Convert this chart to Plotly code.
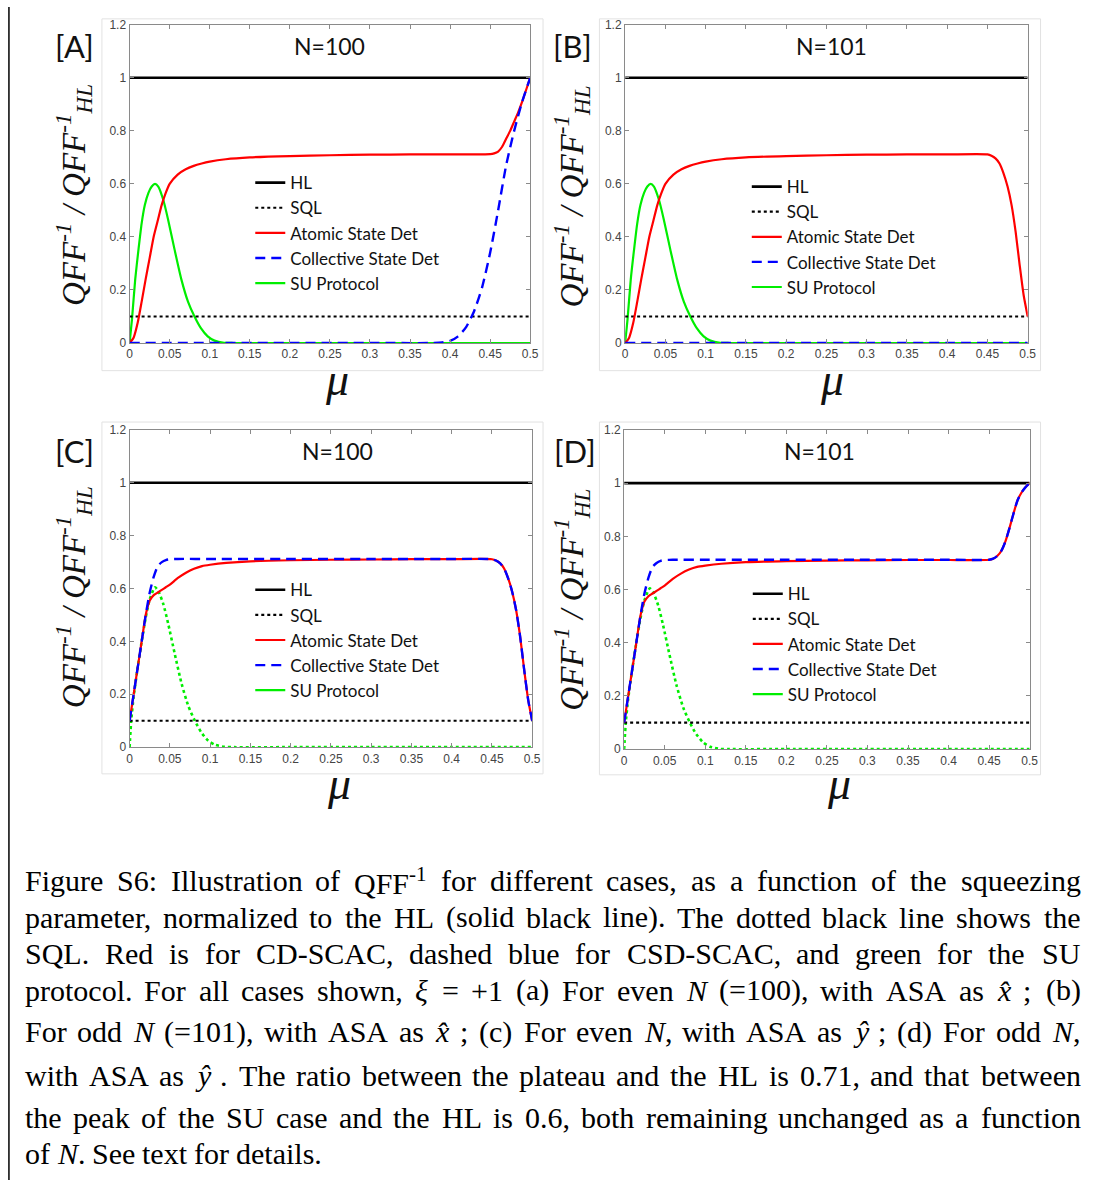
import re
import plotly.graph_objects as go

W, H = 1099, 1187

# ---------------- data ----------------
hl_mu = [0, 0.5]
hl_val = [1.0, 1.0]
sql_val = [0.1, 0.1]

# Panel A (N=100, x-hat)
red_A_mu = [0, 0.005, 0.01, 0.015, 0.02, 0.025, 0.03, 0.035, 0.04, 0.045, 0.05, 0.06, 0.07, 0.08,
            0.09, 0.1, 0.12, 0.15, 0.2, 0.25, 0.3, 0.35, 0.4, 0.45, 0.455, 0.46, 0.465, 0.47,
            0.475, 0.48, 0.485, 0.49, 0.495, 0.5]
red_A = [0, 0.02, 0.075, 0.155, 0.24, 0.32, 0.40, 0.46, 0.52, 0.565, 0.60, 0.635, 0.655, 0.668,
         0.677, 0.684, 0.693, 0.700, 0.705, 0.708, 0.710, 0.711, 0.711, 0.712, 0.715, 0.722, 0.74, 0.77,
         0.80, 0.835, 0.87, 0.91, 0.955, 1.0]
blue_A_mu = [0, 0.1, 0.2, 0.3, 0.38, 0.39, 0.4, 0.41, 0.42, 0.43, 0.44, 0.45, 0.46, 0.47, 0.48, 0.49, 0.5]
blue_A = [0, 0, 0, 0, 0, 0.002, 0.008, 0.025, 0.06, 0.12, 0.21, 0.34, 0.50, 0.67, 0.80, 0.91, 1.0]
green_AB_mu = [0, 0.003, 0.007, 0.011, 0.015, 0.019, 0.0235, 0.0276, 0.0317, 0.0358, 0.042, 0.048,
               0.056, 0.0646, 0.073, 0.081, 0.089, 0.0975, 0.106, 0.118, 0.13, 0.2, 0.3, 0.4, 0.5]
green_AB = [0, 0.09, 0.24, 0.35, 0.45, 0.52, 0.566, 0.59, 0.60, 0.59, 0.54, 0.466,
            0.354, 0.24, 0.155, 0.10, 0.056, 0.025, 0.009, 0.001, 0, 0, 0, 0, 0]

# Panel B (N=101, x-hat)
red_B_mu = [0, 0.005, 0.01, 0.015, 0.02, 0.025, 0.03, 0.035, 0.04, 0.045, 0.05, 0.06, 0.07, 0.08,
            0.09, 0.1, 0.12, 0.15, 0.2, 0.25, 0.3, 0.35, 0.4, 0.45, 0.455, 0.46, 0.465, 0.47,
            0.475, 0.48, 0.485, 0.49, 0.495, 0.5]
red_B = [0, 0.02, 0.075, 0.155, 0.24, 0.32, 0.40, 0.46, 0.52, 0.565, 0.60, 0.635, 0.655, 0.668,
         0.677, 0.684, 0.693, 0.700, 0.705, 0.708, 0.710, 0.711, 0.711, 0.711, 0.706, 0.696, 0.677, 0.64,
         0.59, 0.52, 0.42, 0.295, 0.18, 0.10]
blue_B_mu = [0, 0.1, 0.2, 0.3, 0.4, 0.5]
blue_B = [0, 0, 0, 0, 0, 0]

# Panel C (N=100, y-hat)
red_C_mu = [0, 0.005, 0.01, 0.015, 0.02, 0.025, 0.03, 0.035, 0.04, 0.045, 0.05, 0.06, 0.07, 0.08,
            0.09, 0.1, 0.12, 0.15, 0.2, 0.25, 0.3, 0.35, 0.4, 0.45, 0.455, 0.46, 0.465, 0.47,
            0.475, 0.48, 0.485, 0.49, 0.495, 0.5]
red_C = [0.1, 0.2, 0.30, 0.40, 0.50, 0.555, 0.575, 0.585, 0.595, 0.605, 0.615, 0.64, 0.66, 0.675,
         0.685, 0.69, 0.697, 0.703, 0.707, 0.709, 0.710, 0.711, 0.711, 0.711, 0.706, 0.696, 0.677, 0.64,
         0.59, 0.52, 0.42, 0.295, 0.18, 0.10]
blue_C_mu = [0, 0.005, 0.01, 0.015, 0.02, 0.025, 0.03, 0.035, 0.04, 0.045, 0.05, 0.06, 0.1, 0.2,
             0.3, 0.4, 0.45, 0.455, 0.46, 0.465, 0.47, 0.475, 0.48, 0.485, 0.49, 0.495, 0.5]
blue_C = [0.1, 0.2, 0.30, 0.40, 0.50, 0.585, 0.645, 0.685, 0.70, 0.708, 0.711, 0.712, 0.712, 0.712,
          0.712, 0.712, 0.711, 0.706, 0.696, 0.677, 0.64, 0.59, 0.52, 0.42, 0.295, 0.18, 0.10]
green_CD_mu = [0, 0.002, 0.005, 0.01, 0.015, 0.02, 0.025, 0.03, 0.0317, 0.0358, 0.042, 0.048,
               0.056, 0.0646, 0.073, 0.081, 0.089, 0.0975, 0.106, 0.118, 0.13, 0.2, 0.3, 0.4, 0.5]
green_CD = [0, 0.1, 0.19, 0.30, 0.40, 0.49, 0.56, 0.598, 0.605, 0.59, 0.54, 0.466,
            0.354, 0.24, 0.155, 0.10, 0.056, 0.025, 0.009, 0.001, 0, 0, 0, 0, 0]

# Panel D (N=101, y-hat)
red_D_mu = red_C_mu
red_D = [0.1, 0.2, 0.30, 0.40, 0.50, 0.555, 0.575, 0.585, 0.595, 0.605, 0.615, 0.64, 0.66, 0.675,
         0.685, 0.69, 0.697, 0.703, 0.707, 0.709, 0.710, 0.711, 0.711, 0.712, 0.716, 0.726, 0.745, 0.78,
         0.83, 0.885, 0.935, 0.965, 0.985, 1.0]
blue_D_mu = blue_C_mu
blue_D = [0.1, 0.2, 0.30, 0.40, 0.50, 0.585, 0.645, 0.685, 0.70, 0.708, 0.711, 0.712, 0.712, 0.712,
          0.712, 0.712, 0.712, 0.716, 0.726, 0.745, 0.78, 0.83, 0.885, 0.935, 0.965, 0.985, 1.0]

x_ticks = [0, 0.05, 0.1, 0.15, 0.2, 0.25, 0.3, 0.35, 0.4, 0.45, 0.5]
x_ticktext = ["0", "0.05", "0.1", "0.15", "0.2", "0.25", "0.3", "0.35", "0.4", "0.45", "0.5"]
y_ticks = [0, 0.2, 0.4, 0.6, 0.8, 1.0, 1.2]
y_ticktext = ["0", "0.2", "0.4", "0.6", "0.8", "1", "1.2"]

panel_labels = ["[A]", "[B]", "[C]", "[D]"]
panel_titles = ["N=100", "N=101", "N=100", "N=101"]
legend_names = ["HL", "SQL", "Atomic State Det", "Collective State Det", "SU Protocol"]

NB = "\u00a0"
caption_lines = [
    "Figure S6: Illustration of QFF<sup>-1</sup> for different cases, as a function of the squeezing",
    "parameter, normalized to the HL (solid black line).  The dotted black line shows the",
    "SQL.  Red is for CD-SCAC, dashed blue for CSD-SCAC, and green for the SU",
    f"protocol.  For all cases shown, <i>\u03be</i>{NB}={NB}+1 (a) For even <i>N</i> (=100), with ASA as  <i>x\u0302</i> ; (b)",
    "For odd <i>N</i> (=101), with ASA as  <i>x\u0302</i> ; (c) For even <i>N</i>, with ASA as  <i>y\u0302</i>  ; (d) For odd <i>N</i>,",
    "with ASA as  <i>y\u0302</i> . The ratio between the plateau and the HL is 0.71, and that between",
    "the peak of the SU case and the HL is 0.6, both remaining unchanged as a function",
    f"of <i>N</i>.{NB} See text for details.",
]

# ---------------- helpers ----------------
def px(x):
    return x / W

def py(y):
    return 1 - y / H

# Times-Roman advance widths (1/1000 em) used to justify the caption
TIMES = {' ': 250, NB: 250, '!': 333, '(': 333, ')': 333, '+': 564, ',': 250, '-': 333, '.': 250, '/': 278,
         ':': 278, ';': 278, '=': 564, 'A': 722, 'B': 667, 'C': 667, 'D': 722, 'E': 611, 'F': 556,
         'G': 722, 'H': 722, 'I': 333, 'J': 389, 'K': 722, 'L': 611, 'M': 889, 'N': 722, 'O': 722,
         'P': 556, 'Q': 722, 'R': 667, 'S': 556, 'T': 611, 'U': 722, 'V': 722, 'W': 944, 'X': 722,
         'Y': 722, 'Z': 611, 'a': 444, 'b': 500, 'c': 444, 'd': 500, 'e': 444, 'f': 333, 'g': 500,
         'h': 500, 'i': 278, 'j': 278, 'k': 500, 'l': 278, 'm': 778, 'n': 500, 'o': 500, 'p': 500,
         'q': 500, 'r': 333, 's': 389, 't': 278, 'u': 500, 'v': 500, 'w': 722, 'x': 500, 'y': 500,
         'z': 444, '\u0302': 0, '\u03be': 440}
ITAL = {'N': 667, 'x': 444, 'y': 444, '\u03be': 440, '\u0302': 0}

def word_width(tok, size):
    w = 0.0
    scale, ital = 1.0, False
    for part in re.split(r'(<[^>]+>)', tok):
        if part.startswith('<'):
            if part == '<sup>':
                scale = 0.7
            elif part == '</sup>':
                scale = 1.0
            elif part == '<i>':
                ital = True
            elif part == '</i>':
                ital = False
            continue
        for ch in part:
            cw = ITAL.get(ch, TIMES.get(ch, 500)) if ital else TIMES.get(ch, 500)
            w += cw * scale
    return w / 1000.0 * size

panels = [
    dict(x0=128, x1=533, y0=18, y1=340, red=(red_A_mu, red_A), blue=(blue_A_mu, blue_A),
         green=(green_AB_mu, green_AB), gdash="solid", leg=(250, 160), lab=(72, 39), tit=(330, 39),
         ylab=(72, 190), mu=(338, 377), frame=(100, 12, 546, 368)),
    dict(x0=629, x1=1036, y0=18, y1=340, red=(red_B_mu, red_B), blue=(blue_B_mu, blue_B),
         green=(green_AB_mu, green_AB), gdash="solid", leg=(752, 164), lab=(576, 39), tit=(838, 39),
         ylab=(575, 192), mu=(838, 377), frame=(603, 12, 1049, 368)),
    dict(x0=128, x1=535, y0=428, y1=749, red=(red_C_mu, red_C), blue=(blue_C_mu, blue_C),
         green=(green_CD_mu, green_CD), gdash="dot", leg=(250, 572), lab=(72, 449), tit=(338, 449),
         ylab=(72, 597), mu=(340, 786), frame=(100, 420, 546, 776)),
    dict(x0=628, x1=1038, y0=428, y1=751, red=(red_D_mu, red_D), blue=(blue_D_mu, blue_D),
         green=(green_CD_mu, green_CD), gdash="dot", leg=(753, 576), lab=(578, 449), tit=(826, 449),
         ylab=(575, 600), mu=(845, 786), frame=(603, 420, 1049, 777)),
]

fig = go.Figure()
RED, BLUE, GREEN = "#ff0000", "#0000ff", "#00ee00"
shapes, annotations = [], []
layout_extra = {}

for i, p in enumerate(panels):
    n = i + 1
    xa = "x" if n == 1 else f"x{n}"
    ya = "y" if n == 1 else f"y{n}"
    lg = "legend" if n == 1 else f"legend{n}"
    common = dict(xaxis=xa, yaxis=ya, legend=lg, mode="lines", hoverinfo="skip")
    if p["gdash"] == "solid":
        fig.add_trace(go.Scatter(x=p["green"][0], y=p["green"][1], name=legend_names[4],
                                 line=dict(color=GREEN, width=2.2, shape="spline", smoothing=0.6),
                                 legendrank=5, **common))
    else:
        fig.add_trace(go.Scatter(x=p["green"][0], y=p["green"][1], name=legend_names[4],
                                 line=dict(color=GREEN, width=2.6, dash="dot", shape="spline", smoothing=0.6),
                                 showlegend=False, **common))
        fig.add_trace(go.Scatter(x=[None], y=[None], name=legend_names[4],
                                 line=dict(color=GREEN, width=2.2), legendrank=5, **common))
    fig.add_trace(go.Scatter(x=hl_mu, y=hl_val, name=legend_names[0],
                             line=dict(color="black", width=2.6), legendrank=1, **common))
    fig.add_trace(go.Scatter(x=hl_mu, y=sql_val, name=legend_names[1],
                             line=dict(color="black", width=2.2, dash="dot"), legendrank=2, **common))
    fig.add_trace(go.Scatter(x=p["red"][0], y=p["red"][1], name=legend_names[2],
                             line=dict(color=RED, width=2.2, shape="spline", smoothing=0.6),
                             legendrank=3, **common))
    fig.add_trace(go.Scatter(x=p["blue"][0], y=p["blue"][1], name=legend_names[3],
                             line=dict(color=BLUE, width=2.4, dash="10px,6px", shape="spline", smoothing=0.6),
                             legendrank=4, **common))

    axis_common = dict(showgrid=False, zeroline=False, showline=True, linecolor="#8a8a8a", linewidth=1.2,
                       mirror="ticks", ticks="inside", ticklen=4, tickcolor="#8a8a8a",
                       tickfont=dict(family="Liberation Sans, Arial", size=12, color="#444444"))
    xkey = "xaxis" if n == 1 else f"xaxis{n}"
    ykey = "yaxis" if n == 1 else f"yaxis{n}"
    layout_extra[xkey] = dict(domain=[px(p["x0"]), px(p["x1"])], range=[0, 0.5], anchor=ya,
                              tickvals=x_ticks, ticktext=x_ticktext, **axis_common)
    layout_extra[ykey] = dict(domain=[py(p["y1"]), py(p["y0"])], range=[0, 1.2], anchor=xa,
                              tickvals=y_ticks, ticktext=y_ticktext, **axis_common)
    layout_extra[lg] = dict(x=px(p["leg"][0]), y=py(p["leg"][1]), xanchor="left", yanchor="top",
                            bgcolor="rgba(0,0,0,0)", traceorder="normal",
                            font=dict(family="Lato, Open Sans", size=17, color="#111111"))

    fx0, fy0, fx1, fy1 = p["frame"]
    shapes.append(dict(type="rect", xref="paper", yref="paper", x0=px(fx0), x1=px(fx1), y0=py(fy1), y1=py(fy0),
                       line=dict(color="#e2e2e2", width=1), layer="below"))

    annotations.append(dict(text=panel_labels[i], x=px(p["lab"][0]), y=py(p["lab"][1]), xref="paper", yref="paper",
                            showarrow=False, xanchor="center", yanchor="middle",
                            font=dict(family="Lato, Open Sans", size=31, color="#111111")))
    annotations.append(dict(text=panel_titles[i], x=px(p["tit"][0]), y=py(p["tit"][1]), xref="paper", yref="paper",
                            showarrow=False, xanchor="center", yanchor="middle",
                            font=dict(family="Lato, Open Sans", size=23, color="#111111")))
    annotations.append(dict(text="<i>QFF<sup>-1</sup> / QFF<sup>-1</sup><sub>HL</sub></i>",
                            x=px(p["ylab"][0]), y=py(p["ylab"][1]), xref="paper", yref="paper",
                            showarrow=False, xanchor="center", yanchor="middle", textangle=-90,
                            font=dict(family="Liberation Serif, Times New Roman", size=33, color="#111111")))
    annotations.append(dict(text="<i>\u03bc</i>", x=px(p["mu"][0]), y=py(p["mu"][1]), xref="paper", yref="paper",
                            showarrow=False, xanchor="center", yanchor="middle",
                            font=dict(family="Liberation Serif, Times New Roman", size=46, color="#111111")))

# caption, justified between x=25 and x=1083 (annotation padding compensated)
CAP_SIZE = 30
CAP_L, CAP_R = 20, 1092
caption_y = [884, 921, 958, 995, 1037, 1081, 1124, 1160]
cap_font = dict(family="Liberation Serif, Times New Roman", size=CAP_SIZE, color="black")
for li, (line, yy) in enumerate(zip(caption_lines, caption_y)):
    toks = line.split()
    widths = [word_width(t, CAP_SIZE) for t in toks]
    last = li == len(caption_lines) - 1
    if last:
        gap = 0.25 * CAP_SIZE
    else:
        gap = (CAP_R - CAP_L - 6 - sum(widths)) / (len(toks) - 1)
    xcur = CAP_L
    for k, (t, w) in enumerate(zip(toks, widths)):
        if (not last) and k == len(toks) - 1:
            annotations.append(dict(text=t, x=px(CAP_R), y=py(yy), xref="paper", yref="paper", showarrow=False,
                                    xanchor="right", yanchor="middle", font=cap_font))
        else:
            annotations.append(dict(text=t, x=px(xcur), y=py(yy), xref="paper", yref="paper", showarrow=False,
                                    xanchor="left", yanchor="middle", font=cap_font))
        xcur += w + gap

shapes.append(dict(type="line", xref="paper", yref="paper", x0=px(6), x1=px(6), y0=0, y1=1,
                   line=dict(color="black", width=1.5)))

fig.update_layout(width=W, height=H, margin=dict(l=0, r=0, t=0, b=0), paper_bgcolor="white",
                  plot_bgcolor="white", showlegend=True, shapes=shapes, annotations=annotations,
                  **layout_extra)

fig.write_html("out.html")
